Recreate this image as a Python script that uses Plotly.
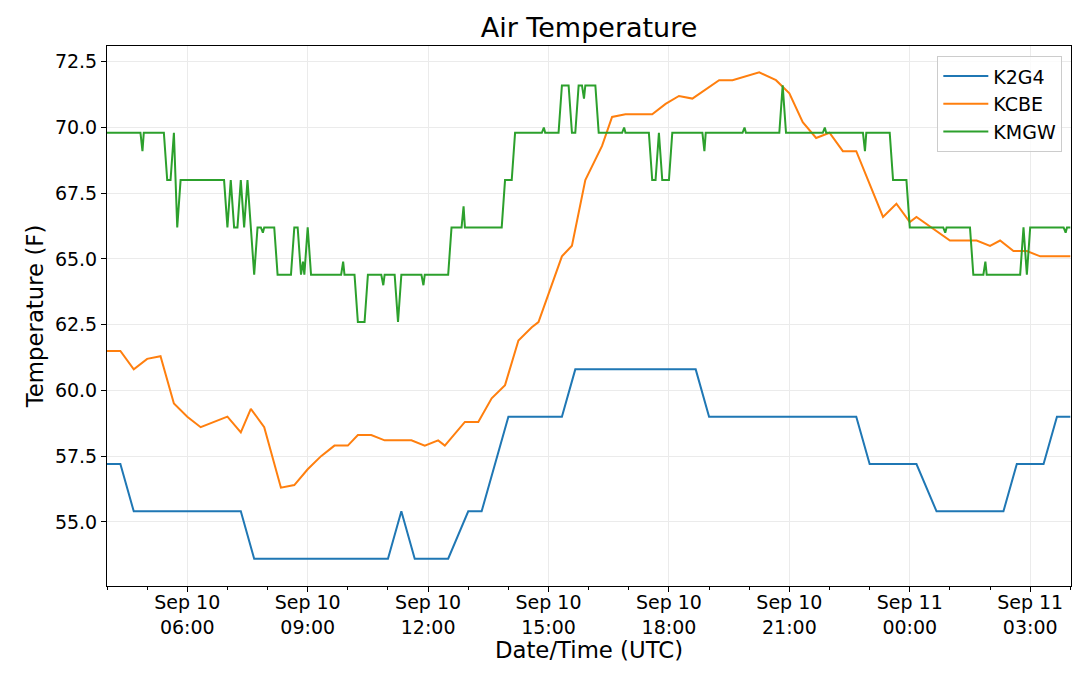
"""
Air temperature at three stations, Sep 10-11 (UTC), in F.
"""

from __future__ import annotations

from datetime import datetime, timedelta

import plotly.graph_objects as go

START_DAY = datetime(2019, 9, 10)

K2G4_TIME = [
    "04:00", "04:20", "04:40", "07:20", "07:40", "11:00", "11:20", "11:40",
    "12:30", "13:00", "13:20", "14:00", "15:20", "15:40", "18:40", "19:00",
    "22:40", "23:00", "00:10", "00:40", "02:20", "02:40", "03:20", "03:40",
    "04:00",
]
K2G4_TEMP = [
    57.2, 57.2, 55.4, 55.4, 53.6, 53.6, 55.4, 53.6,
    53.6, 55.4, 55.4, 59.0, 59.0, 60.8, 60.8, 59.0,
    59.0, 57.2, 57.2, 55.4, 55.4, 57.2, 57.2, 59.0,
    59.0,
]

KCBE_TIME = [
    "04:00", "04:20", "04:40", "05:00", "05:20", "05:40", "06:00", "06:20",
    "07:00", "07:20", "07:35", "07:55", "08:20", "08:40", "09:00", "09:20",
    "09:40", "10:00", "10:15", "10:35", "10:55", "11:35", "11:55", "12:15",
    "12:25", "12:55", "13:15", "13:35", "13:55", "14:15", "14:35", "14:45",
    "15:20", "15:35", "15:55", "16:20", "16:35", "16:55", "17:35", "17:55",
    "18:15", "18:35", "19:15", "19:35", "20:15", "20:40", "21:00", "21:20",
    "21:40", "22:00", "22:20", "22:40", "23:20", "23:40", "00:00", "00:10",
    "01:00", "01:40", "02:00", "02:15", "02:35", "02:55", "03:15", "04:00",
]
KCBE_TEMP = [
    61.5, 61.5, 60.8, 61.2, 61.3, 59.5, 59.0, 58.6,
    59.0, 58.4, 59.3, 58.6, 56.3, 56.4, 57.0, 57.5,
    57.9, 57.9, 58.3, 58.3, 58.1, 58.1, 57.9, 58.1,
    57.9, 58.8, 58.8, 59.7, 60.2, 61.9, 62.4, 62.6,
    65.1, 65.5, 68.0, 69.3, 70.4, 70.5, 70.5, 70.9,
    71.2, 71.1, 71.8, 71.8, 72.1, 71.8, 71.3, 70.2,
    69.6, 69.8, 69.1, 69.1, 66.6, 67.1, 66.4, 66.6,
    65.7, 65.7, 65.5, 65.7, 65.3, 65.3, 65.1, 65.1,
]

KMGW_TIME = [
    "04:00", "04:50", "04:53", "04:55", "05:25", "05:30", "05:35", "05:40",
    "05:45", "05:50", "06:55", "07:00", "07:05", "07:10", "07:15", "07:20",
    "07:25", "07:30", "07:40", "07:45", "07:50", "07:53", "07:55", "08:10",
    "08:15", "08:35", "08:40", "08:45", "08:50", "08:53", "08:55", "09:00",
    "09:05", "09:50", "09:53", "09:55", "10:10", "10:15", "10:25", "10:30",
    "10:50", "10:53", "10:55", "11:10", "11:15", "11:20", "11:50", "11:53",
    "11:55", "12:30", "12:35", "12:50", "12:53", "12:55", "13:50", "13:55",
    "14:05", "14:10", "14:50", "14:53", "14:55", "15:15", "15:20", "15:30",
    "15:35", "15:40", "15:45", "15:50", "15:53", "15:55", "16:10", "16:15",
    "16:50", "16:53", "16:55", "17:30", "17:35", "17:40", "17:45", "17:50",
    "18:00", "18:05", "18:50", "18:53", "18:55", "19:50", "19:53", "19:55",
    "20:45", "20:50", "20:55", "21:50", "21:53", "21:55", "22:50", "22:53",
    "22:55", "23:30", "23:35", "23:55", "00:00", "00:50", "00:53", "00:55",
    "01:30", "01:35", "01:50", "01:53", "01:55", "02:45", "02:50", "02:55",
    "03:00", "03:50", "03:53", "03:55", "04:00",
]
KMGW_TEMP = [
    69.8, 69.8, 69.1, 69.8, 69.8, 68.0, 68.0, 69.8,
    66.2, 68.0, 68.0, 66.2, 68.0, 66.2, 66.2, 68.0,
    66.2, 68.0, 64.4, 66.2, 66.2, 66.0, 66.2, 66.2,
    64.4, 64.4, 66.2, 66.2, 64.4, 64.9, 64.4, 66.2,
    64.4, 64.4, 64.9, 64.4, 64.4, 62.6, 62.6, 64.4,
    64.4, 64.0, 64.4, 64.4, 62.6, 64.4, 64.4, 64.0,
    64.4, 64.4, 66.2, 66.2, 67.0, 66.2, 66.2, 68.0,
    68.0, 69.8, 69.8, 70.0, 69.8, 69.8, 71.6, 71.6,
    69.8, 69.8, 71.6, 71.6, 71.1, 71.6, 71.6, 69.8,
    69.8, 70.0, 69.8, 69.8, 68.0, 68.0, 69.8, 68.0,
    68.0, 69.8, 69.8, 69.1, 69.8, 69.8, 70.0, 69.8,
    69.8, 71.6, 69.8, 69.8, 70.0, 69.8, 69.8, 69.1,
    69.8, 69.8, 68.0, 68.0, 66.2, 66.2, 66.0, 66.2,
    66.2, 64.4, 64.4, 64.9, 64.4, 64.4, 66.2, 64.4,
    66.2, 66.2, 66.0, 66.2, 66.2,
]

TICK_TIMES = ["06:00", "09:00", "12:00", "15:00", "18:00", "21:00", "00:00", "03:00"]
TICK_TEXT = [
    "Sep 10<br>06:00", "Sep 10<br>09:00", "Sep 10<br>12:00", "Sep 10<br>15:00",
    "Sep 10<br>18:00", "Sep 10<br>21:00", "Sep 11<br>00:00", "Sep 11<br>03:00",
]

COLORS = {
    "K2G4": "#1f77b4",
    "KCBE": "#ff7f0e",
    "KMGW": "#2ca02c",
}

FONT = "DejaVu Sans"
GRID = "#ebebeb"

# the page body keeps its 8px default margin, so the figure is 8px smaller
WIDTH = 1072
HEIGHT = 665


def stamp(times: list[str]) -> list[datetime]:
    """Clock times -> datetimes; day rolls over after midnight."""

    result = []
    day = 0
    previous = -1

    for text in times:
        hour, minute = (int(part) for part in text.split(":"))
        value = hour * 60 + minute
        if value < previous:
            day += 1
        previous = value
        result.append(START_DAY + timedelta(days=day, minutes=value))

    return result


fig = go.Figure()

for name, times, temps in (
    ("K2G4", K2G4_TIME, K2G4_TEMP),
    ("KCBE", KCBE_TIME, KCBE_TEMP),
    ("KMGW", KMGW_TIME, KMGW_TEMP),
):
    fig.add_trace(
        go.Scatter(
            x=stamp(times),
            y=temps,
            mode="lines",
            name=name,
            line=dict(color=COLORS[name], width=2),
        )
    )

tick_vals = stamp(TICK_TIMES)
x_start = START_DAY + timedelta(hours=4)
x_end = START_DAY + timedelta(days=1, hours=4, minutes=1)

fig.update_layout(
    width=WIDTH,
    height=HEIGHT,
    paper_bgcolor="white",
    plot_bgcolor="white",
    font=dict(family=FONT, color="black", size=19),
    title=dict(
        text="Air Temperature",
        x=581 / WIDTH,
        xanchor="center",
        y=1 - 20 / HEIGHT,
        yanchor="middle",
        font=dict(size=27),
        automargin=False,
    ),
    margin=dict(l=99, r=9, t=38, b=87, autoexpand=False),
    showlegend=True,
    legend=dict(
        x=0.991,
        y=0.981,
        xanchor="right",
        yanchor="top",
        bgcolor="rgba(255,255,255,0.8)",
        bordercolor="#cccccc",
        borderwidth=1,
        font=dict(size=19),
        itemwidth=45,
    ),
)

fig.update_xaxes(
    type="date",
    automargin=False,
    range=[x_start, x_end],
    tickvals=tick_vals,
    ticktext=TICK_TEXT,
    ticks="outside",
    ticklen=5,
    tickcolor="black",
    ticklabelstandoff=-6,
    showgrid=True,
    gridcolor=GRID,
    gridwidth=1,
    showline=True,
    linecolor="black",
    linewidth=1,
    mirror=True,
    zeroline=False,
    minor=dict(
        ticks="outside",
        ticklen=3,
        tickcolor="black",
        dtick=3600000,
        tick0=x_start,
        showgrid=False,
    ),
    title=dict(text="Date/Time (UTC)", font=dict(size=22.8), standoff=0),
)

fig.update_yaxes(
    automargin=False,
    range=[52.56, 73.1],
    tick0=0,
    dtick=2.5,
    tickformat=".1f",
    ticks="outside",
    ticklen=5,
    tickcolor="black",
    showgrid=True,
    gridcolor=GRID,
    gridwidth=1,
    showline=True,
    linecolor="black",
    linewidth=1,
    mirror=True,
    zeroline=False,
    title=dict(text="Temperature (F)", font=dict(size=22.8), standoff=4),
)

fig.write_html("out.html")
